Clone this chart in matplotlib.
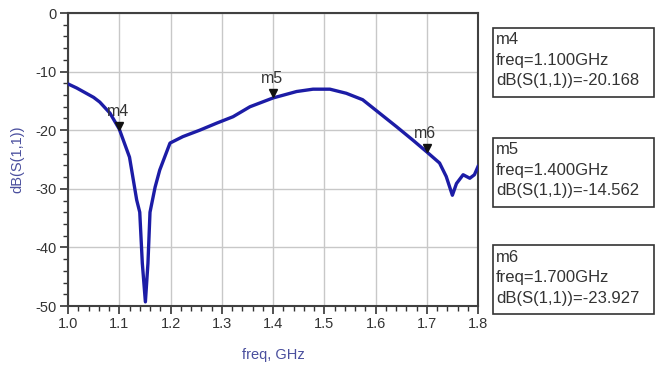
import matplotlib
matplotlib.use("Agg")
import matplotlib.pyplot as plt
import matplotlib.transforms as mtransforms
from matplotlib.patches import Rectangle

plt.rcParams['font.family'] = ['Liberation Sans', 'DejaVu Sans']
plt.rcParams['axes.unicode_minus'] = False

# S11 trace
freq = [1.0, 1.017, 1.05, 1.062, 1.082, 1.1, 1.12, 1.134, 1.14, 1.145, 1.151, 1.156,
        1.16, 1.17, 1.179, 1.199, 1.224, 1.257, 1.29, 1.322, 1.355, 1.40, 1.446,
        1.478, 1.511, 1.543, 1.575, 1.608, 1.641, 1.673, 1.70, 1.725, 1.738, 1.75,
        1.758, 1.771, 1.784, 1.793, 1.80]
s11 = [-12.1, -12.8, -14.4, -15.2, -17.1, -19.8, -24.6, -31.9, -34.0, -42.7, -49.3, -42.7,
       -34.0, -29.7, -26.8, -22.2, -21.1, -20.0, -18.8, -17.7, -16.0, -14.5, -13.4,
       -13.0, -13.0, -13.7, -14.8, -17.1, -19.4, -21.7, -23.7, -25.6, -27.9, -31.1,
       -29.1, -27.6, -28.2, -27.6, -26.2]

marker_names = ['m4', 'm5', 'm6']
marker_freq = [1.100, 1.400, 1.700]
marker_val = [-20.168, -14.562, -23.927]

xticks = [1.0, 1.1, 1.2, 1.3, 1.4, 1.5, 1.6, 1.7, 1.8]
yticks = [0, -10, -20, -30, -40, -50]

W, H = 655, 372
fig = plt.figure(figsize=(W / 100, H / 100), dpi=100)
ax = fig.add_axes([68 / W, 1 - 306 / H, 410 / W, 293 / H])

ax.plot(freq, s11, color='#1c1ca6', lw=2.4, zorder=3, solid_joinstyle='round')

ax.set_xlim(1.0, 1.8)
ax.set_ylim(-50, 0)
ax.set_xticks(xticks)
ax.set_xticklabels(['%.1f' % t for t in xticks])
ax.set_yticks(yticks)
ax.set_yticklabels([str(t) for t in yticks])
ax.set_xticks([1.0 + 0.02 * i for i in range(41)], minor=True)
ax.set_yticks([-2 * i for i in range(26)], minor=True)
ax.tick_params(which='major', length=6, width=1.2, color='#333333',
               labelsize=10.5, labelcolor='#333333', pad=2)
ax.tick_params(which='minor', length=3.5, width=1.0, color='#333333')
ax.grid(True, which='major', color='#c8c8c8', lw=1.0)
for s in ax.spines.values():
    s.set_color('#404040')
    s.set_linewidth(1.5)

ax.set_xlabel('freq, GHz', color='#4a4f9e', fontsize=10.5, labelpad=12)
ax.set_ylabel('dB(S(1,1))', color='#4a4f9e', fontsize=10.5, labelpad=8)

# markers on the trace
tri = mtransforms.offset_copy(ax.transData, fig=fig, x=0, y=4, units='points')
for name, f, v in zip(marker_names, marker_freq, marker_val):
    ax.plot([f], [v], marker='v', color='#111111', ms=6, transform=tri, zorder=4)
    ax.annotate(name, (f, v), xytext=(-1, 14), textcoords='offset points',
                ha='center', va='center', fontsize=11.5, color='#333333')

# readout boxes on the right
box_tops = [28, 138, 245]
for name, f, v, top in zip(marker_names, marker_freq, marker_val, box_tops):
    fig.patches.append(Rectangle((493 / W, 1 - (top + 69) / H), 161 / W, 69 / H,
                                 transform=fig.transFigure, fill=False,
                                 edgecolor='#333333', lw=1.2))
    lines = [name, 'freq=%.3fGHz' % f, 'dB(S(1,1))=%.3f' % v]
    for i, line in enumerate(lines):
        fig.text(496 / W, 1 - (top + 12 + 20.5 * i) / H, line, fontsize=12,
                 color='#333333', va='center', ha='left')

fig.savefig('out.png', dpi=100)
